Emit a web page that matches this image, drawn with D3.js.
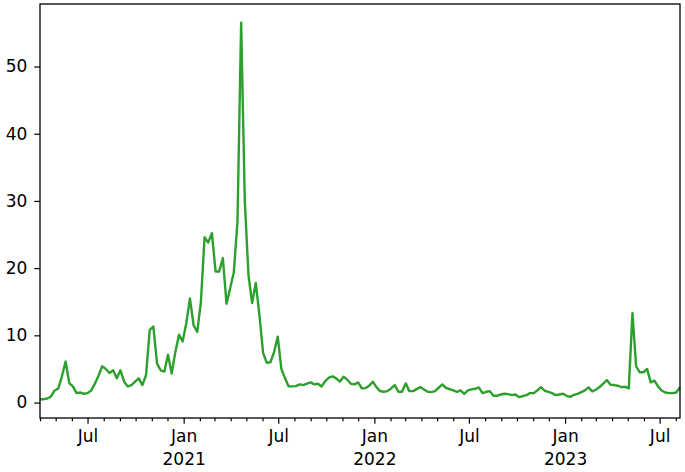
<!DOCTYPE html>
<html><head><meta charset="utf-8">
<script src="https://cdn.jsdelivr.net/npm/d3@7"></script>
<style>
html,body{margin:0;padding:0;background:#fff;}
svg{display:block;}
text{font-family:"DejaVu Sans",sans-serif;fill:#000;}
</style>
</head><body>
<svg id="chart" width="685" height="472"></svg>
<script>
// ---- data ----
const startDate = "2020-04-01";   // first weekly observation
const stepDays = 7;
const values = [
  0.5, 0.5, 0.6, 0.9, 1.8, 2.1, 3.9, 6.1, 2.9, 2.4,
  1.4, 1.5, 1.3, 1.4, 1.8, 2.8, 4.0, 5.4, 5.0, 4.4,
  4.8, 3.6, 4.8, 3.1, 2.4, 2.6, 3.1, 3.6, 2.6, 4.1,
  10.8, 11.3, 5.8, 4.8, 4.6, 7.1, 4.3, 7.5, 10.1, 9.1,
  11.8, 15.5, 11.5, 10.5, 15.0, 24.6, 23.8, 25.2, 19.5, 19.5,
  21.5, 14.7, 17.0, 19.4, 27.0, 56.5, 30.0, 19.0, 14.8, 17.8,
  13.0, 7.4, 5.9, 6.0, 7.5, 9.8, 5.0, 3.6, 2.4, 2.4,
  2.45, 2.7, 2.6, 2.8, 3.0, 2.7, 2.8, 2.4, 3.2, 3.7,
  3.9, 3.6, 3.1, 3.85, 3.4, 2.8, 2.7, 3.0, 2.1, 2.15,
  2.5, 3.1, 2.3, 1.7, 1.6, 1.7, 2.1, 2.6, 1.6, 1.6,
  2.85, 1.7, 1.7, 2.0, 2.3, 1.95, 1.6, 1.55, 1.7, 2.2,
  2.7, 2.2, 2.0, 1.8, 1.6, 1.8, 1.3, 1.8, 1.95, 2.05,
  2.25, 1.4, 1.6, 1.7, 1.0, 1.0, 1.2, 1.3, 1.25, 1.1,
  1.2, 0.8, 0.95, 1.1, 1.4, 1.4, 1.8, 2.3, 1.75, 1.6,
  1.4, 1.1, 1.2, 1.3, 1.0, 0.85, 1.15, 1.3, 1.55, 1.8,
  2.25, 1.65, 1.9, 2.3, 2.8, 3.35, 2.65, 2.6, 2.5, 2.3,
  2.35, 2.1, 13.3, 5.4, 4.5, 4.5, 5.0, 3.0, 3.25, 2.4,
  1.8, 1.5, 1.4, 1.4, 1.5, 2.3
];
const yTicks = [0, 10, 20, 30, 40, 50];
const monthLabels = ["Jan","Feb","Mar","Apr","May","Jun","Jul","Aug","Sep","Oct","Nov","Dec"];

// ---- layout ----
const W = 685, H = 472;
const m = {left: 40, top: 4, right: 5, bottom: 54};
const plotW = W - m.left - m.right, plotH = H - m.top - m.bottom;
const lineColor = "#2ca02c";
const fontSize = 17;

const t0 = new Date(startDate + "T00:00:00Z");
const data = values.map((v, i) => ({date: d3.utcDay.offset(t0, i * stepDays), value: v}));

const svg = d3.select("#chart");
svg.append("rect").attr("width", W).attr("height", H).attr("fill", "#fff");
const g = svg.append("g").attr("transform", `translate(${m.left},${m.top})`);

const x = d3.scaleUtc().domain(d3.extent(data, d => d.date)).range([0, plotW]);
const [vmin, vmax] = d3.extent(values);
const pad = (vmax - vmin) * 0.05;
const y = d3.scaleLinear().domain([vmin - pad, vmax + pad]).range([plotH, 0]);

// line
const line = d3.line().x(d => x(d.date)).y(d => y(d.value));
g.append("path").datum(data)
  .attr("d", line)
  .attr("fill", "none")
  .attr("stroke", lineColor)
  .attr("stroke-width", 2.4)
  .attr("stroke-linejoin", "round");

// x axis: monthly minor ticks, Jan/Jul major ticks
const months = d3.utcMonth.range(x.domain()[0], d3.utcDay.offset(x.domain()[1], 1));
const isMajor = d => d.getUTCMonth() === 0 || d.getUTCMonth() === 6;
const xAxisMinor = d3.axisBottom(x).tickValues(months.filter(d => !isMajor(d)))
  .tickSize(3.3).tickFormat("");
const xAxisMajor = d3.axisBottom(x).tickValues(months.filter(isMajor))
  .tickSize(5.7).tickPadding(6).tickFormat(d => monthLabels[d.getUTCMonth()]);

const gxMinor = g.append("g").attr("transform", `translate(0,${plotH})`).call(xAxisMinor);
const gxMajor = g.append("g").attr("transform", `translate(0,${plotH})`).call(xAxisMajor);
[gxMinor, gxMajor].forEach(ax => {
  ax.select(".domain").remove();
  ax.selectAll(".tick line").attr("stroke", "#000").attr("stroke-width", 1.2);
});
gxMajor.selectAll(".tick text")
  .attr("font-size", fontSize)
  .attr("font-family", "DejaVu Sans")
  .attr("fill", "#000")
  .attr("dy", "0.71em");
gxMajor.selectAll(".tick").filter(d => d.getUTCMonth() === 0)
  .append("text")
  .attr("y", 5.7 + 6)
  .attr("dy", "2.1em")
  .attr("text-anchor", "middle")
  .attr("font-size", fontSize)
  .attr("fill", "#000")
  .text(d => d.getUTCFullYear());

// y axis
const yAxis = d3.axisLeft(y).tickValues(yTicks).tickSize(5.7).tickPadding(7).tickFormat(d3.format("d"));
const gy = g.append("g").call(yAxis);
gy.select(".domain").remove();
gy.selectAll(".tick line").attr("stroke", "#000").attr("stroke-width", 1.2);
gy.selectAll(".tick text").attr("font-size", fontSize).attr("font-family", "DejaVu Sans").attr("fill", "#000");

// frame (spines)
g.append("rect")
  .attr("x", 0).attr("y", 0).attr("width", plotW).attr("height", plotH)
  .attr("fill", "none").attr("stroke", "#000").attr("stroke-width", 1.3);
</script>
</body></html>
